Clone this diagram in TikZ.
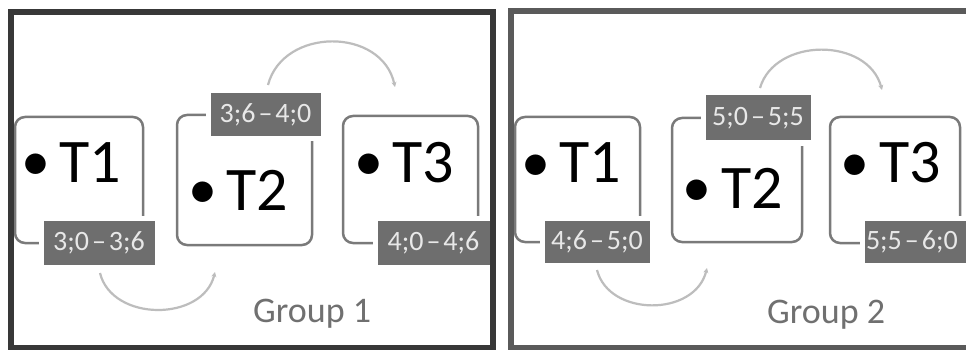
\documentclass[tikz,border=0pt]{standalone}
\usepackage{fontspec}
\setmainfont{Carlito}
\usetikzlibrary{arrows.meta}
\definecolor{frameA}{HTML}{383838}
\definecolor{frameB}{HTML}{5A5A5A}
\definecolor{boxgray}{HTML}{7A7A7A}
\definecolor{labfill}{HTML}{6E6E6E}
\definecolor{labtext}{HTML}{E8E8E8}
\definecolor{arcgray}{HTML}{BDBDBD}
\definecolor{grouptext}{HTML}{707070}
\newcommand\dashsep{\kern3pt–\kern3pt}
\begin{document}
\begin{tikzpicture}[x=1pt,y=-1pt,
  taskbox/.style={draw=boxgray, line width=2.5pt, rounded corners=10pt, inner sep=0pt, outer sep=0pt, anchor=north west},
  labelbox/.style={fill=labfill, draw=white, line width=5pt, text=labtext, inner sep=0pt, outer sep=0pt,
     font=\fontsize{28}{28}\selectfont},
  tasktext/.style={inner sep=0pt, anchor=base west, font=\fontsize{62}{62}\selectfont},
  bulletdot/.style={inner sep=0pt, anchor=base, font=\fontsize{58}{58}\selectfont},
  grouplabel/.style={inner sep=0pt, anchor=base west, text=grouptext, font=\fontsize{36}{36}\selectfont},
  arcline/.style={draw=arcgray, line width=2.2pt, -{Stealth[length=5pt,width=5pt]}},
  frameline/.style={line width=6pt}
]
\useasboundingbox (0,0) rectangle (966,350);
\fill[white] (0,0) rectangle (966,350);
\begin{scope}
\clip (0,0) rectangle (966,350);
% ---------- Group 1 ----------
\node[taskbox, minimum width=128pt, minimum height=126pt] (b11) at (15,117) {};
\node[taskbox, minimum width=135pt, minimum height=130pt] (b12) at (177,115) {};
\node[taskbox, minimum width=135pt, minimum height=127pt] (b13) at (343,116) {};
\node[labelbox, minimum width=116pt, minimum height=49pt] (l11) at (99,242.5) {3;0\dashsep3;6};
\node[labelbox, minimum width=115pt, minimum height=48pt] (l12) at (265.5,115) {3;6\dashsep4;0};
\node[labelbox, minimum width=117pt, minimum height=49pt] (l13) at (433.5,242.5) {4;0\dashsep4;6};
\node[bulletdot] (d11) at (35.5,180) {•};
\node[tasktext] (t11) at (59,182) {T1};
\node[bulletdot] (d12) at (202.5,208) {•};
\node[tasktext] (t12) at (226,210) {T2};
\node[bulletdot] (d13) at (369,180) {•};
\node[tasktext] (t13) at (392,182) {T3};
\node[grouplabel] (g1) at (253,322) {Group 1};
\coordinate (a11) at (100,273);
\coordinate (a12) at (215,272);
\coordinate (a13) at (268,85);
\coordinate (a14) at (395,87);
\draw[arcline] (a11) .. controls (112,322) and (203,322) .. (a12);
\draw[arcline] (a13) .. controls (283,27) and (382,27) .. (a14);
% ---------- Group 2 ----------
\node[taskbox, minimum width=125pt, minimum height=125pt] (b21) at (515,117) {};
\node[taskbox, minimum width=130pt, minimum height=124pt] (b22) at (672,118) {};
\node[taskbox, minimum width=130pt, minimum height=126pt] (b23) at (830,117) {};
\node[labelbox, minimum width=110pt, minimum height=47pt] (l21) at (597,241.5) {4;6\dashsep5;0};
\node[labelbox, minimum width=110pt, minimum height=50pt] (l22) at (758,118) {5;0\dashsep5;5};
\node[labelbox, minimum width=113pt, minimum height=47pt, text width=105pt, align=left] (l23) at (918.5,241.5) {5;5\dashsep6;0};
\node[bulletdot] (d21) at (536,181) {•};
\node[tasktext] (t21) at (559,182) {T1};
\node[bulletdot] (d22) at (697,206) {•};
\node[tasktext] (t22) at (721,208) {T2};
\node[bulletdot] (d23) at (855,181) {•};
\node[tasktext] (t23) at (879,182) {T3};
\node[grouplabel] (g2) at (767,323) {Group 2};
\coordinate (a21) at (597,270);
\coordinate (a22) at (707,268);
\coordinate (a23) at (760,88);
\coordinate (a24) at (882,90);
\draw[arcline] (a21) .. controls (609,317) and (695,317) .. (a22);
\draw[arcline] (a23) .. controls (775,37) and (868,37) .. (a24);
% ---------- frames ----------
\draw[frameline, draw=frameA] (11,12) rectangle (493,348);
\draw[frameline, draw=frameB] (511,11) rectangle (1000,348);
\end{scope}
\end{tikzpicture}
\end{document}
